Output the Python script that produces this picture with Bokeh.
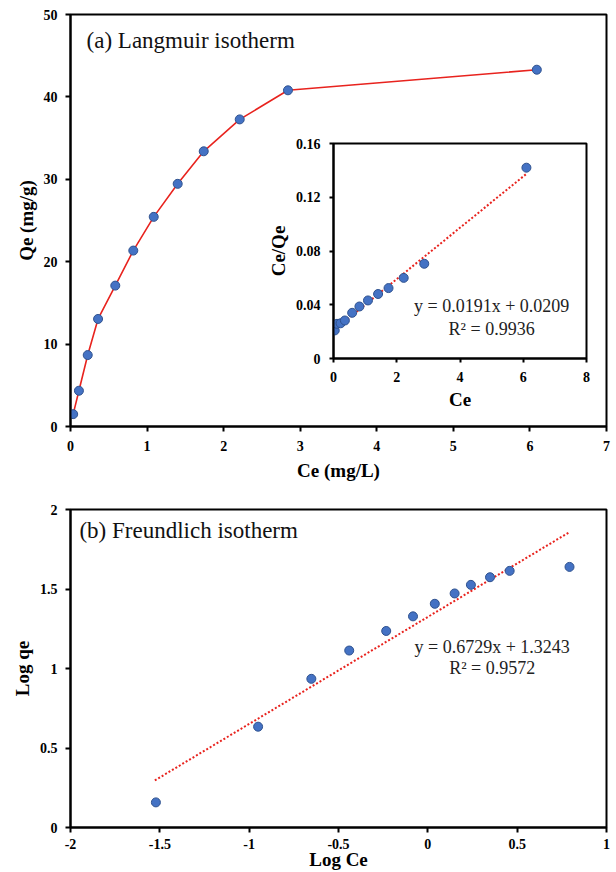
from bokeh.plotting import figure
from bokeh.models import GridBox, Range1d, FixedTicker, Label
from bokeh.embed import file_html
from bokeh.resources import INLINE

# ---------------- data ----------------
# (a) Langmuir isotherm
ce = [0.035, 0.11, 0.225, 0.36, 0.585, 0.82, 1.087, 1.40, 1.74, 2.21, 2.84, 6.09]
qe = [1.5, 4.34, 8.67, 13.05, 17.1, 21.35, 25.44, 29.45, 33.4, 37.27, 40.8, 43.3]
top_xticks = [0, 1, 2, 3, 4, 5, 6, 7]
top_yticks = [0, 10, 20, 30, 40, 50]

# inset: linear Langmuir
ce_in = [0.04, 0.11, 0.225, 0.36, 0.59, 0.82, 1.09, 1.41, 1.74, 2.22, 2.87, 6.1]
ce_qe = [0.0209, 0.0258, 0.0262, 0.0283, 0.034, 0.0387, 0.0432, 0.048, 0.0524, 0.060, 0.0705, 0.142]
lang_slope, lang_icpt = 0.0191, 0.0209
lang_fit_x = [0.04, 6.08]
in_xticks = [0, 2, 4, 6, 8]
in_yticks = [0, 0.04, 0.08, 0.12, 0.16]
in_ylabels = ["0", "0.04", "0.08", "0.12", "0.16"]

# (b) Freundlich isotherm
log_ce = [-1.522, -0.95, -0.652, -0.44, -0.233, -0.083, 0.039, 0.15, 0.241, 0.348, 0.458, 0.793]
log_qe = [0.158, 0.634, 0.935, 1.113, 1.236, 1.328, 1.407, 1.472, 1.526, 1.574, 1.614, 1.639]
fr_slope, fr_icpt = 0.6729, 1.3243
fr_fit_x = [-1.528, 0.787]
bot_xticks = [-2, -1.5, -1, -0.5, 0, 0.5, 1]
bot_xlabels = ["-2", "-1.5", "-1", "-0.5", "0", "0.5", "1"]
bot_yticks = [0, 0.5, 1, 1.5, 2]
bot_ylabels = ["0", "0.5", "1", "1.5", "2"]

FONT = "Liberation Serif"
MFILL = "#4472C4"
MLINE = "#2F528F"
RED = "#E8231E"


def style(p, tick_out=5, tick_size="14px", lab_size="19px", tick_std=8, lab_std=4):
    p.grid.visible = False
    p.outline_line_color = "black"
    p.outline_line_width = 2
    p.background_fill_color = "white"
    for ax in (p.xaxis[0], p.yaxis[0]):
        ax.axis_line_width = 2
        ax.axis_line_color = "black"
        ax.major_tick_line_width = 2
        ax.major_tick_line_color = "black"
        ax.major_tick_out = tick_out
        ax.major_tick_in = 0
        ax.minor_tick_line_color = None
        ax.major_label_text_font = FONT
        ax.major_label_text_font_style = "bold"
        ax.major_label_text_font_size = tick_size
        ax.major_label_text_color = "black"
        ax.axis_label_text_font = FONT
        ax.axis_label_text_font_style = "bold"
        ax.axis_label_text_font_size = lab_size
        ax.axis_label_text_color = "black"
        ax.major_label_standoff = tick_std
        ax.axis_label_standoff = lab_std


# ---------------- top plot ----------------
top = figure(width=612, height=490, output_backend="svg", toolbar_location=None,
             x_range=Range1d(0, 7), y_range=Range1d(0, 50),
             min_border_left=70, min_border_right=6, min_border_top=14, min_border_bottom=64)
top.border_fill_color = "white"
style(top)
top.xaxis.ticker = FixedTicker(ticks=top_xticks)
top.yaxis.ticker = FixedTicker(ticks=top_yticks)
top.xaxis.axis_label = "Ce (mg/L)"
top.yaxis.axis_label = "Qe (mg/g)"
top.xaxis.major_label_standoff = 9
top.xaxis.axis_label_standoff = 6
top.line(ce, qe, line_color=RED, line_width=1.6)
top.scatter(ce, qe, size=9, fill_color=MFILL, line_color=MLINE, line_width=1)
top.add_layout(Label(x=0.21, y=46.8, text="(a) Langmuir isotherm", text_font=FONT,
                     text_font_size="23px", text_color="#111111", text_baseline="alphabetic"))

# ---------------- inset ----------------
ins = figure(width=329, height=293, output_backend="svg", toolbar_location=None,
             x_range=Range1d(0, 8), y_range=Range1d(0, 0.16),
             min_border_left=70, min_border_right=6, min_border_top=14, min_border_bottom=64,
             margin=(129, 0, 0, 263))
ins.border_fill_color = None
style(ins, tick_out=4, tick_std=9, lab_std=4)
ins.xaxis.ticker = FixedTicker(ticks=in_xticks)
ins.yaxis.ticker = FixedTicker(ticks=in_yticks)
ins.yaxis.major_label_overrides = {t: s for t, s in zip(in_yticks, in_ylabels)}
ins.xaxis.axis_label = "Ce"
ins.yaxis.axis_label = "Ce/Qe"
ins.line(lang_fit_x, [lang_slope * x + lang_icpt for x in lang_fit_x],
         line_color=RED, line_width=2, line_dash="2 2")
ins.scatter(ce_in, ce_qe, size=9, fill_color=MFILL, line_color=MLINE, line_width=1)
ins.add_layout(Label(x=5.0, y=0.039, text="y = 0.0191x + 0.0209", text_font=FONT,
                     text_font_size="18px", text_color="#222222", text_align="center",
                     text_baseline="alphabetic"))
ins.add_layout(Label(x=5.0, y=0.0219, text="R\u00b2 = 0.9936", text_font=FONT,
                     text_font_size="18px", text_color="#222222", text_align="center",
                     text_baseline="alphabetic"))

# ---------------- bottom plot ----------------
bot = figure(width=612, height=382, output_backend="svg", toolbar_location=None,
             x_range=Range1d(-2, 1), y_range=Range1d(0, 2),
             min_border_left=70, min_border_right=4, min_border_top=19, min_border_bottom=44)
bot.border_fill_color = "white"
style(bot)
bot.xaxis.major_label_standoff = 6
bot.xaxis.axis_label_standoff = -3
bot.xaxis.ticker = FixedTicker(ticks=bot_xticks)
bot.yaxis.ticker = FixedTicker(ticks=bot_yticks)
bot.xaxis.major_label_overrides = {t: s for t, s in zip(bot_xticks, bot_xlabels)}
bot.yaxis.major_label_overrides = {t: s for t, s in zip(bot_yticks, bot_ylabels)}
bot.xaxis.axis_label = "Log Ce"
bot.yaxis.axis_label = "Log qe"
bot.line(fr_fit_x, [fr_slope * x + fr_icpt for x in fr_fit_x],
         line_color=RED, line_width=2, line_dash="2 2")
bot.scatter(log_ce, log_qe, size=9, fill_color=MFILL, line_color=MLINE, line_width=1)
bot.add_layout(Label(x=-1.95, y=1.87, text="(b) Freundlich isotherm", text_font=FONT,
                     text_font_size="23px", text_color="#111111", text_baseline="alphabetic"))
bot.add_layout(Label(x=0.36, y=1.137, text="y = 0.6729x + 1.3243", text_font=FONT,
                     text_font_size="18px", text_color="#222222", text_align="center",
                     text_baseline="alphabetic"))
bot.add_layout(Label(x=0.36, y=1.005, text="R\u00b2 = 0.9572", text_font=FONT,
                     text_font_size="18px", text_color="#222222", text_align="center",
                     text_baseline="alphabetic"))

layout = GridBox(children=[(top, 0, 0), (ins, 0, 0), (bot, 1, 0)], spacing=0)

open("out.html", "w").write(file_html(layout, INLINE))
